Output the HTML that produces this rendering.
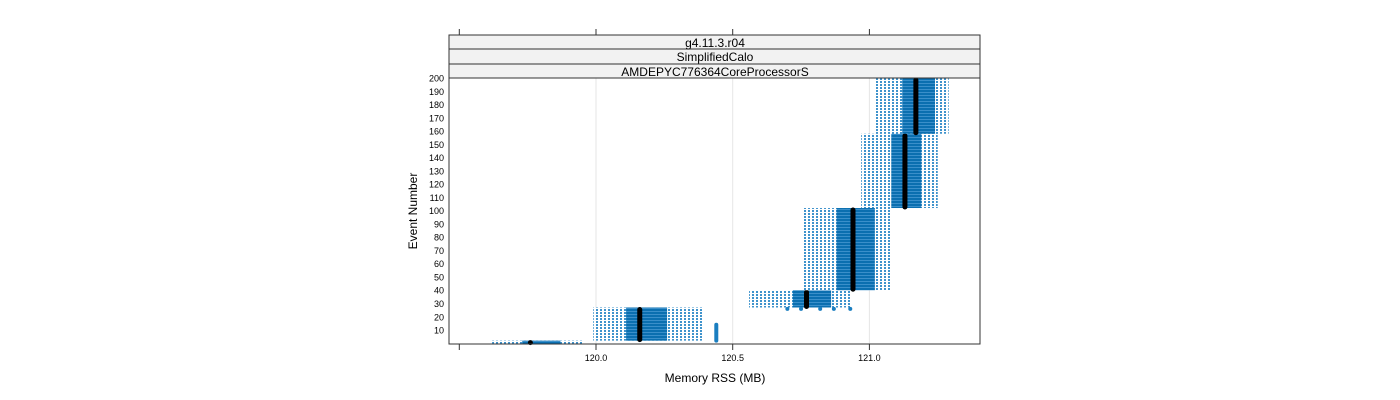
<!DOCTYPE html>
<html><head><meta charset="utf-8"><style>
body{margin:0;background:#fff}
svg{display:block;font-family:"Liberation Sans",sans-serif}
</style></head><body>
<svg id="c" width="1400" height="400">
<defs>
<pattern id="wp" width="4" height="3" patternUnits="userSpaceOnUse"><rect width="4" height="3" fill="#fff"/><rect x="0" y="0" width="2" height="2" fill="#3f93cc"/></pattern>
<pattern id="bp" width="4" height="3" patternUnits="userSpaceOnUse"><rect width="4" height="3" fill="#0b6fb0"/><rect x="0" y="2" width="4" height="1" fill="#3a8fca"/></pattern>
</defs>
<g id="grid"></g>
<g id="marks"></g>
<rect x="449" y="78" width="531" height="266" fill="none" stroke="#333"/>
<g>
<rect x="449" y="35" width="531" height="14" fill="#f2f2f2" stroke="#333"/>
<rect x="449" y="49" width="531" height="15" fill="#f2f2f2" stroke="#333"/>
<rect x="449" y="64" width="531" height="14" fill="#f2f2f2" stroke="#333"/>
<text x="715" y="47" font-size="12" text-anchor="middle">g4.11.3.r04</text>
<text x="715" y="61" font-size="12" text-anchor="middle">SimplifiedCalo</text>
<text x="715" y="76" font-size="12" text-anchor="middle">AMDEPYC776364CoreProcessorS</text>
</g>
<g id="axes"></g>
<text x="715" y="382" font-size="12" text-anchor="middle">Memory RSS (MB)</text>
<text transform="translate(417,211) rotate(-90)" font-size="12" text-anchor="middle">Event Number</text>
</svg>
<script>
const xTicks=[119.5,120.0,120.5,121.0];
const xTickLabels=["","120.0","120.5","121.0"];
const yTicks=[10,20,30,40,50,60,70,80,90,100,110,120,130,140,150,160,170,180,190,200];
const evStart=[0,2,27,40,102,158];
const evEnd=[2,27,40,102,158,200];
const lo=[119.62,119.99,120.56,120.76,120.97,121.02];
const q1=[119.73,120.11,120.72,120.88,121.08,121.12];
const med=[119.76,120.16,120.77,120.94,121.13,121.17];
const q3=[119.87,120.26,120.86,121.02,121.19,121.24];
const hi=[119.95,120.39,120.93,121.08,121.25,121.29];
const outX=[120.44,120.70,120.75,120.82,120.87,120.93];
const outY=[14,26,26,26,26,26];
const X=v=>596+(v-120)*273.4;
const Y=e=>343.3-e*1.3263;
const NS="http://www.w3.org/2000/svg";
function mk(p,t,a){const e=document.createElementNS(NS,t);for(const k in a)e.setAttribute(k,a[k]);document.getElementById(p).appendChild(e);return e;}
xTicks.forEach((t,i)=>{
 if(i>0){const g=mk('grid','line',{x1:X(t),x2:X(t),y1:78,y2:344,stroke:'#e6e6e6'});
 
 }
 const a=mk('axes','line',{x1:X(t),x2:X(t),y1:344,y2:350,stroke:'#333'});
 
 
 const b=mk('axes','line',{x1:X(t),x2:X(t),y1:29,y2:35,stroke:'#333'});
 
 
 const l=mk('axes','text',{x:X(t),y:361,'font-size':9,'text-anchor':'middle'});
 l.textContent=xTickLabels[i];
 
 
});
yTicks.forEach(t=>{
 const l=mk('axes','text',{x:444,y:Y(t)+3.5,'font-size':9,'text-anchor':'end'});
 l.textContent=t;
 
 
});
lo.forEach((v,i)=>{
 const y1=Y(evEnd[i]),y2=Y(evStart[i]),h=Math.max(3,y2-y1);
 const w=mk('marks','rect',{x:X(v),y:y1,width:X(hi[i])-X(v),height:h,fill:'url(#wp)'});
 
 
 const b=mk('marks','rect',{x:X(q1[i]),y:y1,width:X(q3[i])-X(q1[i]),height:h,fill:'url(#bp)'});
 
 
 const m=mk('marks','line',{x1:X(med[i]),x2:X(med[i]),y1:y1+2,y2:y1+h-1,stroke:'#000','stroke-width':5,'stroke-linecap':'round'});
 
 
});
outX.forEach((v,i)=>{
 const o=mk('marks','line',{x1:X(v),x2:X(v),y1:Y(outY[i]),y2:Y(i==0?2:outY[i]),stroke:'#1a7ec0','stroke-width':4,'stroke-linecap':'round'});
 
 
});
</script>
</body></html>
